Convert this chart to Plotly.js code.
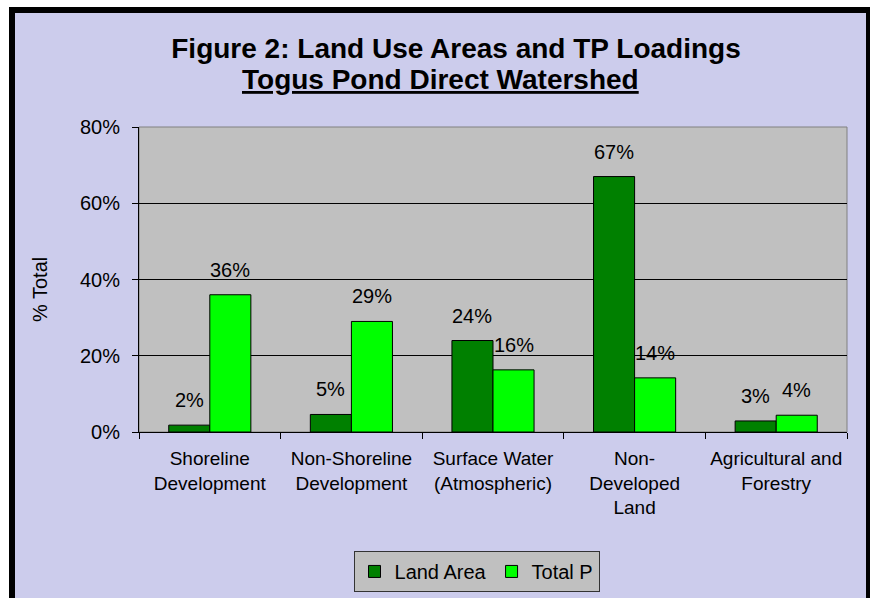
<!DOCTYPE html>
<html>
<head>
<meta charset="utf-8">
<script src="https://cdn.plot.ly/plotly-3.0.1.min.js"></script>
<style>
  html, body { margin: 0; padding: 0; background: #ffffff; overflow: hidden; }
  #frame { position: absolute; left: 9px; top: 7px; width: 851px; height: 600px;
           border: 6px solid #000; border-bottom: none; background: #CCCCEC; }
  #chart { width: 851px; height: 600px; }
</style>
</head>
<body>
<div id="frame"><div id="chart"></div></div>
<script>
// ---- data ----
const categories = [
  "Shoreline<br>Development",
  "Non-Shoreline<br>Development",
  "Surface Water<br>(Atmospheric)",
  "Non-<br>Developed<br>Land",
  "Agricultural and<br>Forestry"
];
const landArea = [1.8, 4.6, 24, 67, 2.9];   // % of total land area
const totalP   = [36, 29, 16.3, 14.2, 4.4]; // % of total phosphorus load
const seriesNames = ["Land Area", "Total P"];
const yTickVals = [0, 20, 40, 60, 80];
const yTickText = ["0%", "20%", "40%", "60%", "80%"];
const titleLine1 = "Figure 2: Land Use Areas and TP Loadings";
const titleLine2 = "Togus Pond Direct Watershed";
const yTitle = "% Total";

// ---- layout constants ----
const W = 851, H = 600;
const M = {l: 124, r: 19, t: 114, b: 181};
const bargap = 0.42;
const font = '"Liberation Sans", Arial, sans-serif';

const plotW = W - M.l - M.r;
const plotH = H - M.t - M.b;
const catW = plotW / categories.length;
const barW = catW * (1 - bargap) / 2;

const traces = [
  {type: 'bar', name: seriesNames[0], x: categories, y: landArea,
   marker: {color: '#008000', line: {color: '#000', width: 1}}, hoverinfo: 'y'},
  {type: 'bar', name: seriesNames[1], x: categories, y: totalP,
   marker: {color: '#00FF00', line: {color: '#000', width: 1}}, hoverinfo: 'y'}
];

const annotations = [];
[landArea, totalP].forEach((vals, s) => {
  vals.forEach((v, i) => {
    annotations.push({
      x: categories[i], y: v, xref: 'x', yref: 'y',
      xshift: (s === 0 ? -1 : 1) * barW / 2, yshift: 12,
      yanchor: 'bottom', xanchor: 'center', showarrow: false,
      text: Math.round(v) + '%',
      font: {family: font, size: 20, color: '#000'}
    });
  });
});
annotations.push({
  text: titleLine2, xref: 'paper', yref: 'paper',
  x: (425 - M.l) / plotW, y: 1.157, xanchor: 'center', yanchor: 'middle',
  showarrow: false,
  font: {family: font, size: 28, color: '#000', weight: 'bold', lineposition: 'under'}
});
annotations.push({
  text: yTitle, xref: 'paper', yref: 'paper', textangle: -90,
  x: (25 - M.l) / plotW, y: (H - M.b - 277) / plotH, xanchor: 'center', yanchor: 'middle',
  showarrow: false,
  font: {family: font, size: 20, color: '#000'}
});

const layout = {
  width: W, height: H,
  margin: M,
  paper_bgcolor: '#CCCCEC',
  plot_bgcolor: '#C0C0C0',
  font: {family: font, color: '#000'},
  title: {text: titleLine1, xref: 'container', yref: 'container',
          x: 441 / W, y: 1 - 35 / H, xanchor: 'center', yanchor: 'middle',
          font: {family: font, size: 28, weight: 'bold', color: '#000'}},
  barmode: 'group', bargap: bargap, bargroupgap: 0,
  showlegend: true,
  legend: {orientation: 'h', x: 0.4767, xanchor: 'center', y: -0.39, yanchor: 'top',
           bgcolor: '#C0C0C0', bordercolor: '#333', borderwidth: 1,
           tracegroupgap: 0, itemwidth: 30,
           font: {family: font, size: 20, color: '#000'}},
  xaxis: {type: 'category', showline: true, linecolor: '#000', linewidth: 1,
          ticks: 'outside', tickson: 'boundaries', ticklen: 6, tickcolor: '#000',
          showgrid: false, ticklabelstandoff: 9,
          tickfont: {family: font, size: 19, color: '#000'}},
  yaxis: {range: [0, 80], tickmode: 'array', tickvals: yTickVals, ticktext: yTickText,
          showline: true, linecolor: '#000', linewidth: 1,
          ticks: 'outside', ticklen: 6, tickcolor: '#000',
          showgrid: true, gridcolor: '#000', gridwidth: 1, zeroline: false,
          ticklabelstandoff: 8,
          tickfont: {family: font, size: 20, color: '#000'}},
  shapes: [{type: 'rect', xref: 'paper', yref: 'paper', x0: 0, x1: 1, y0: 0, y1: 1,
            line: {color: '#808080', width: 1}, layer: 'below'}],
  annotations: annotations
};

Plotly.newPlot('chart', traces, layout, {displayModeBar: false, staticPlot: true});
</script>
</body>
</html>
